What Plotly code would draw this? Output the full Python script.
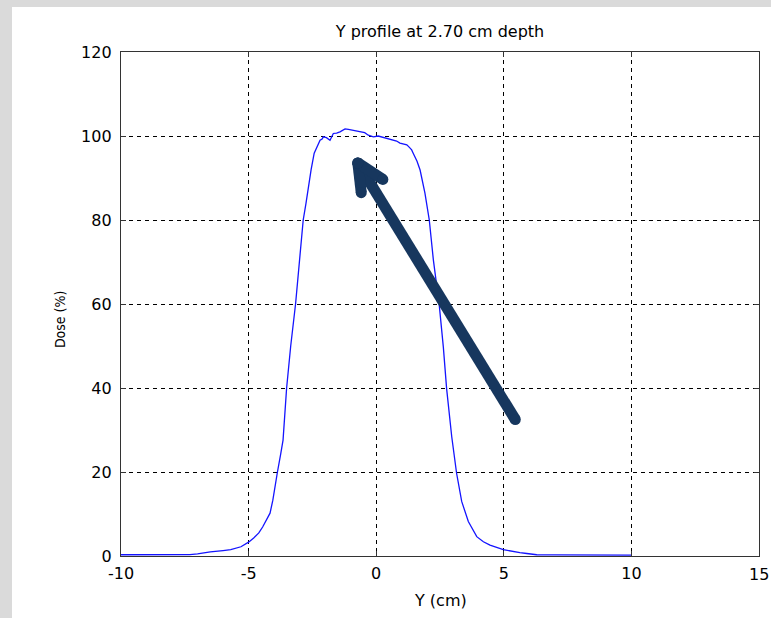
import math
import plotly.graph_objects as go

# Off-axis position (cm) and relative dose (%) of the measured Y profile
y_cm = [-10, -9, -8, -7.3, -7.0, -6.5, -6.0, -5.7, -5.3, -5.0, -4.8, -4.6, -4.45,
        -4.3, -4.16, -4.05, -3.95, -3.87, -3.75, -3.65, -3.51, -3.35, -3.16, -3.0,
        -2.86, -2.75, -2.66, -2.55, -2.43, -2.3, -2.2, -2.12, -2.07, -1.95, -1.81,
        -1.68, -1.55, -1.42, -1.3, -1.22, -1.09, -0.9, -0.75, -0.57, -0.45, -0.31,
        -0.11, 0.08, 0.25, 0.41, 0.55, 0.67, 0.8, 0.93, 1.05, 1.2, 1.3, 1.39, 1.45,
        1.6, 1.72, 1.91, 2.08, 2.24, 2.47, 2.63, 2.76, 2.96, 3.15, 3.35, 3.61, 3.94,
        4.2, 4.46, 4.98, 5.3, 5.63, 5.9, 6.29, 7, 8, 9, 10]
dose_pct = [0.3, 0.3, 0.3, 0.35, 0.5, 1.0, 1.3, 1.5, 2.2, 3.3, 4.3, 5.5, 6.9,
            8.5, 10.2, 13.3, 16.5, 20, 24, 27.6, 40, 50, 60, 70,
            80, 84, 88, 92, 95.9, 97.8, 99.0, 99.3, 99.8, 99.6, 99.0,
            100.6, 100.7, 101.0, 101.5, 101.7, 101.6, 101.4, 101.2, 101.0, 100.8, 100.2,
            99.8, 100.0, 99.7, 99.4, 99.3, 99.0, 98.8, 98.3, 98.2, 97.9, 97.3, 96.7, 95.9,
            94.0, 91.9, 86.4, 80, 70.5, 59.8, 49.8, 39.8, 28.4, 19.7, 13.0, 8.2, 4.6,
            3.4, 2.6, 1.5, 1.1, 0.8, 0.6, 0.3, 0.25, 0.2, 0.2, 0.2]

x_ticks = [-10, -5, 0, 5, 10, 15]
y_ticks = [0, 20, 40, 60, 80, 100, 120]

# Callout arrow: tail and head (data units)
arrow_tail = (5.45, 32.5)
arrow_head = (-0.72, 93.6)

W, H = 771, 618
M_L, M_R, M_T, M_B = 121, 12, 52, 62
X_RANGE = (-10, 15)
Y_RANGE = (0, 120)
PW, PH = W - M_L - M_R, H - M_T - M_B
SX = PW / (X_RANGE[1] - X_RANGE[0])   # px per cm
SY = PH / (Y_RANGE[1] - Y_RANGE[0])   # px per %

FONT = "DejaVu Sans, Verdana, sans-serif"
FONT_V = "DejaVu Sans Condensed, Liberation Sans Narrow, Arial Narrow, sans-serif"
FS = 16
ARROW_COLOR = "#17375E"
ARROW_W = 11


def chevron_arms(head, tail, half_angle_deg=25, arm_px=30):
    """End points of the two chevron arms, built in screen space."""
    dx = (tail[0] - head[0]) * SX
    dy = -(tail[1] - head[1]) * SY
    n = math.hypot(dx, dy)
    ux, uy = dx / n, dy / n
    ends = []
    for s in (1, -1):
        a = math.radians(s * half_angle_deg)
        rx = ux * math.cos(a) - uy * math.sin(a)
        ry = ux * math.sin(a) + uy * math.cos(a)
        ends.append((head[0] + rx * arm_px / SX, head[1] - ry * arm_px / SY))
    return ends


arm1, arm2 = chevron_arms(arrow_head, arrow_tail)

fig = go.Figure()
fig.add_trace(go.Scatter(
    x=y_cm, y=dose_pct, mode="lines",
    line=dict(color="#1414ff", width=1.3),
    hoverinfo="skip", showlegend=False))

ax = [arrow_tail[0], arrow_head[0], None, arm1[0], arrow_head[0], None, arrow_head[0], arm2[0]]
ay = [arrow_tail[1], arrow_head[1], None, arm1[1], arrow_head[1], None, arrow_head[1], arm2[1]]
fig.add_trace(go.Scatter(
    x=ax, y=ay, mode="lines+markers",
    line=dict(color=ARROW_COLOR, width=ARROW_W),
    marker=dict(color=ARROW_COLOR, size=ARROW_W, line=dict(width=0)),
    hoverinfo="skip", showlegend=False, cliponaxis=False))

axis_common = dict(
    showline=True, linecolor="#333333", linewidth=1.3, mirror="ticks",
    ticks="inside", ticklen=5, tickwidth=1.2, tickcolor="#333333",
    showgrid=True, gridcolor="#000000", gridwidth=1, griddash="4px,4px",
    zeroline=False, tickfont=dict(family=FONT, size=FS, color="#000000"),
)

# the last x label sits on the figure edge, so it is written as an annotation
x_ticktext = [str(v) for v in x_ticks[:-1]] + [""]
fig.update_xaxes(range=list(X_RANGE), tickvals=x_ticks, ticktext=x_ticktext,
                 ticklabelstandoff=3, **axis_common)
fig.update_yaxes(range=list(Y_RANGE), tickvals=y_ticks, ticktext=[str(v) for v in y_ticks],
                 ticklabelstandoff=5, **axis_common)
fig.add_annotation(text=str(x_ticks[-1]), xref="x", yref="paper", x=x_ticks[-1],
                   y=-7 / PH, xanchor="center", yanchor="top", showarrow=False,
                   font=dict(family=FONT, size=FS, color="#000000"))

# axis titles placed in pixel terms relative to the plot area
fig.add_annotation(text="Y (cm)", xref="paper", yref="paper", x=0.5,
                   y=-(600 - (H - M_B)) / PH, xanchor="center", yanchor="middle",
                   showarrow=False, font=dict(family=FONT, size=FS, color="#000000"))
fig.add_annotation(text="Dose (%)", xref="paper", yref="paper", x=-(M_L - 60) / PW,
                   y=0.47, xanchor="center", yanchor="middle", textangle=-90,
                   showarrow=False, font=dict(family=FONT_V, size=14, color="#000000"))

# light grey window frame along the top and left edges
GREY = "#dadada"
fig.add_shape(type="rect", xref="paper", yref="paper",
              x0=-M_L / PW, x1=(W - M_L) / PW, y0=1 + (M_T - 7) / PH, y1=1 + M_T / PH,
              fillcolor=GREY, line=dict(width=0), layer="above")
fig.add_shape(type="rect", xref="paper", yref="paper",
              x0=-M_L / PW, x1=(12 - M_L) / PW, y0=-M_B / PH, y1=1 + M_T / PH,
              fillcolor=GREY, line=dict(width=0), layer="above")

fig.update_layout(
    width=W, height=H, autosize=False,
    margin=dict(l=M_L, r=M_R, t=M_T, b=M_B, pad=0),
    paper_bgcolor="#ffffff", plot_bgcolor="#ffffff",
    title=dict(text="Y profile at 2.70 cm depth", x=0.5, xref="paper",
               y=1 - 31 / H, yref="container", xanchor="center", yanchor="middle",
               font=dict(family=FONT, size=FS, color="#000000")),
    showlegend=False,
)

fig.write_html("out.html", config={"displayModeBar": False})
